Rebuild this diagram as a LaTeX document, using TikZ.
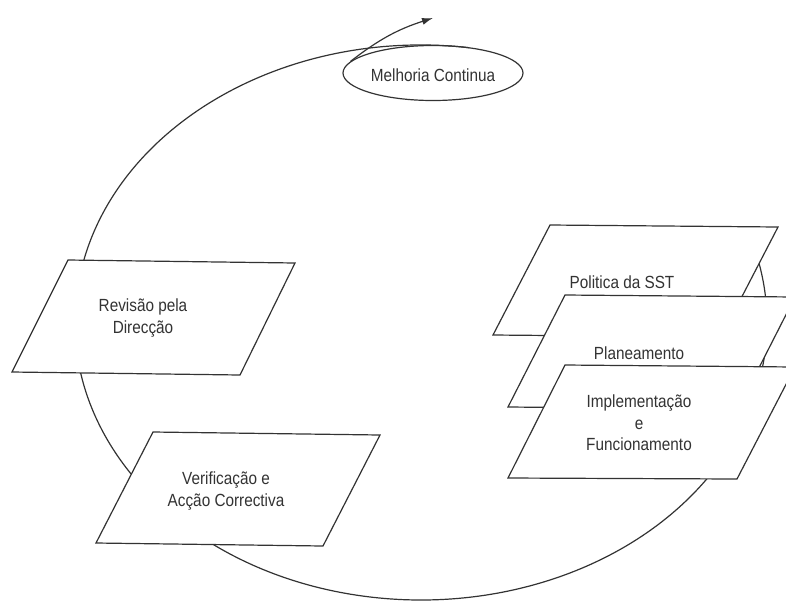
\documentclass[tikz,border=0pt]{standalone}
\usepackage{fontspec}
\setmainfont{Liberation Sans}[FakeStretch=0.87]
\usetikzlibrary{arrows.meta,shapes.geometric}
\definecolor{ink}{HTML}{333333}
\tikzset{
  line/.style={draw=ink,line width=1.2pt},
  boxst/.style={line,fill=white,line join=miter},
  txt/.style={text=ink,font=\fontsize{17.6}{21.5}\selectfont,align=center,inner sep=0pt},
  loopst/.style={line,ellipse,minimum width=180pt,minimum height=55pt,inner sep=0pt}
}
\begin{document}
\begin{tikzpicture}[x=1pt,y=-1pt]
\useasboundingbox (0,0) rectangle (786,603);
\clip (0,0) rectangle (786,603);
% big cycle curve
\coordinate (cc) at (421,322.5);
\draw[line] (cc) ++(278:346 and 277.5) arc[start angle=278,end angle=-15,x radius=346,y radius=277.5];
% Melhoria continua
\node[loopst] (mc) at (433,73) {};
\node[txt] (mct) at (433,75) {Melhoria Continua};
\coordinate (tip) at (433,18);
\draw[line,-{Latex[length=11pt,width=7pt]}] (mc.172) to[bend left=10] (tip);
% Revisao
\path[boxst] (68,260) -- (295,263) -- (240,375) -- (12,372) -- cycle;
\node[txt] (rev) at (143,318) {Revisão pela\\Direcção};
% Verificacao
\path[boxst] (153,432) -- (380,435) -- (323,546) -- (96,543) -- cycle;
\node[txt] (ver) at (226,491) {Verificação e\\Acção Correctiva};
% Politica
\path[boxst] (550,225) -- (778,227) -- (721,337) -- (493,335) -- cycle;
\node[txt] (pol) at (622,282) {Politica da SST};
% Planeamento
\path[boxst] (565,295) -- (795,297) -- (738,409) -- (508,407) -- cycle;
\node[txt] (pla) at (639,353) {Planeamento};
% Implementacao
\path[boxst] (565,365) -- (795,367) -- (737,479) -- (508,478) -- cycle;
\node[txt] (imp) at (639,423) {Implementação\\e\\Funcionamento};
\end{tikzpicture}
\end{document}
